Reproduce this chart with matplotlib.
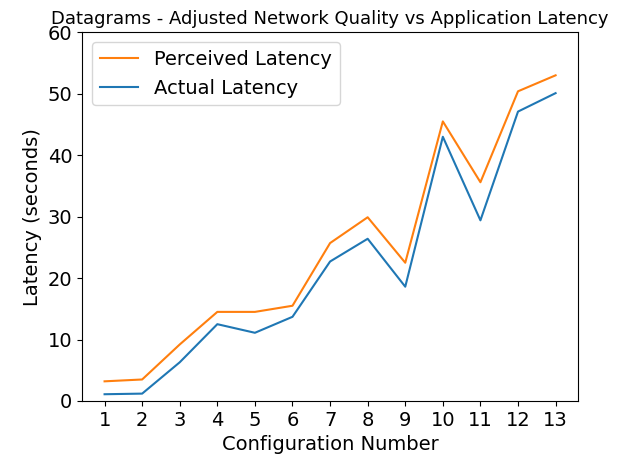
import matplotlib
matplotlib.use("Agg")
import matplotlib.pyplot as plt

# configuration numbers and latencies
configs = list(range(1, 14))
perceived = [3.2, 3.5, 9.2, 14.5, 14.5, 15.5, 25.7, 29.9, 22.5, 45.5, 35.6, 50.4, 53.0]
actual = [1.1, 1.2, 6.3, 12.5, 11.1, 13.7, 22.7, 26.4, 18.6, 43.0, 29.4, 47.1, 50.1]

fig, ax = plt.subplots(figsize=(6.19, 4.55), dpi=100)
ax.plot(configs, perceived, color="#ff7f0e", label="Perceived Latency")
ax.plot(configs, actual, color="#1f77b4", label="Actual Latency")

ax.set_title("Datagrams - Adjusted Network Quality vs Application Latency", fontsize=13)
ax.set_xlabel("Configuration Number", fontsize=14)
ax.set_ylabel("Latency (seconds)", fontsize=14)
ax.set_xticks(configs)
ax.set_ylim(0, 60)
ax.tick_params(labelsize=14)
ax.legend(fontsize=14, loc="upper left")

fig.subplots_adjust(left=0.1325, right=0.934, top=0.929, bottom=0.1187)
fig.savefig("out.png", dpi=100)
